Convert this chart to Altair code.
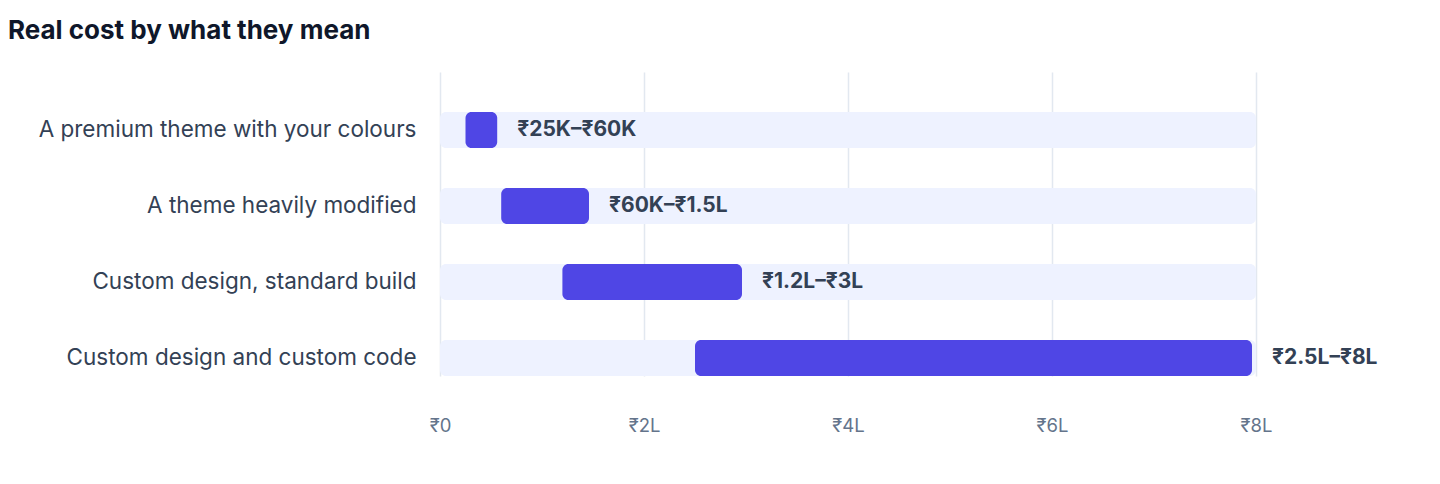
import altair as alt
import pandas as pd

categories = [
    "A premium theme with your colours",
    "A theme heavily modified",
    "Custom design, standard build",
    "Custom design and custom code",
]
low_values = [25000, 60000, 120000, 250000]
high_values = [60000, 150000, 300000, 800000]
range_labels = ["₹25K–₹60K", "₹60K–₹1.5L", "₹1.2L–₹3L", "₹2.5L–₹8L"]
axis_max = 800000
tick_values = [0, 200000, 400000, 600000, 800000]

df = pd.DataFrame({
    "category": categories,
    "low": low_values,
    "high": high_values,
    "label": range_labels,
    "zero": [0] * len(categories),
    "full": [axis_max] * len(categories),
})

FONT = "Inter, Liberation Sans, Noto Sans, sans-serif"

y_enc = alt.Y(
    "category:N",
    sort=categories,
    title=None,
    scale=alt.Scale(range=[20, 324], paddingInner=0, paddingOuter=0),
    axis=alt.Axis(
        domain=False, ticks=False, grid=False,
        labelFontSize=22.5, labelColor="#334155", labelFont=FONT,
        labelPadding=24, labelLimit=430,
    ),
)

x_scale = alt.Scale(domain=[0, axis_max], nice=False)

bg = alt.Chart(df).mark_bar(color="#EEF2FF", cornerRadius=6, size=36).encode(
    x=alt.X(
        "zero:Q", scale=x_scale, title=None,
        axis=alt.Axis(
            values=tick_values, domain=False, ticks=False,
            gridColor="#E2E8F0", gridWidth=1.5, labelFlush=False,
            labelExpr="datum.value == 0 ? '₹0' : '₹' + (datum.value / 100000) + 'L'",
            labelFontSize=18.5, labelColor="#64748B", labelFont=FONT, labelPadding=20,
        ),
    ),
    x2="full:Q",
    y=y_enc,
)

bars = alt.Chart(df).mark_bar(color="#4F46E5", cornerRadius=6, size=36, x2Offset=-4).encode(
    x=alt.X("low:Q", scale=x_scale),
    x2="high:Q",
    y=y_enc,
)

labels = alt.Chart(df).mark_text(
    align="left", baseline="middle", dx=16, fontSize=21, fontWeight="bold",
    color="#334155", font=FONT,
).encode(
    x=alt.X("high:Q", scale=x_scale),
    y=y_enc,
    text="label:N",
)

chart = (bg + bars + labels).properties(
    width=816,
    height=324,
    autosize=alt.AutoSizeParams(type="none"),
    padding={"left": 432, "top": 64, "right": 176, "bottom": 72},
    title=alt.TitleParams(
        "Real cost by what they mean",
        anchor="start", frame="group", dx=-432, offset=28,
        fontSize=26, fontWeight="bold", color="#0F172A", font=FONT,
    ),
).configure_view(stroke=None)

chart.save("out.html", embed_options={"renderer": "svg", "actions": False})
